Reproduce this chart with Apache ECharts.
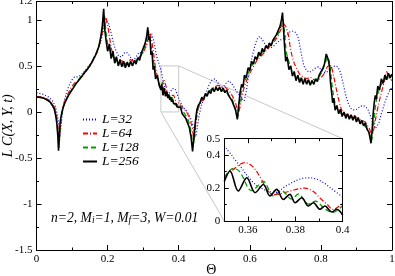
<!DOCTYPE html>
<html><head><meta charset="utf-8">
<script src="https://cdn.jsdelivr.net/npm/echarts@6/dist/echarts.min.js"></script>
<style>html,body{margin:0;padding:0;background:#fff}#c{width:395px;height:276px}</style>
</head><body><div id="c"></div>
<script>
const FONT = 'Liberation Serif';
const seriesNames = ['L=32', 'L=64', 'L=128', 'L=256'];
const colors = ['#0000ff', '#ff0000', '#00a000', '#000000'];
const dashTypes = [[1, 2], [5, 2, 1, 2], [5, 3], 'solid'];
const lineWidths = [1.2, 1.2, 1.3, 1.6];

// main plot ranges / ticks
const mainXTicks = [0, 0.2, 0.4, 0.6, 0.8, 1];
const mainYTicks = [-1.5, -1, -0.5, 0, 0.5, 1];
const insetXTicks = [0.36, 0.38, 0.4];
const insetYTicks = [0, 0.2, 0.4];
const zoomWindow = { x: [0.35, 0.4], y: [0, 0.5] };

// ---- main data (Theta, L*C) ----
const L32 = [[0,0.21],[0.02,0.19],[0.035,0.16],[0.045,0.12],[0.053,0.06],[0.058,-0.02],[0.062,-0.12],[0.066,-0.27],[0.069,-0.15],[0.073,0.0],
[0.078,0.12],[0.085,0.22],[0.092,0.29],[0.1,0.35],[0.107,0.38],[0.115,0.38],[0.125,0.40],[0.135,0.44],[0.145,0.49],[0.155,0.54],
[0.165,0.61],[0.175,0.70],[0.183,0.80],[0.19,0.91],[0.197,0.99],[0.203,0.96],[0.21,0.86],[0.217,0.74],[0.224,0.66],[0.232,0.60],
[0.24,0.60],[0.247,0.64],[0.253,0.65],[0.26,0.62],[0.268,0.57],[0.275,0.57],[0.282,0.61],[0.289,0.65],[0.296,0.64],[0.303,0.66],
[0.31,0.73],[0.317,0.81],[0.324,0.85],[0.33,0.77],[0.338,0.60],[0.345,0.52],[0.35,0.46],[0.356,0.34],[0.362,0.235],[0.368,0.184],
[0.372,0.174],[0.377,0.22],[0.382,0.255],[0.386,0.265],[0.39,0.25],[0.395,0.20],[0.4,0.15],[0.408,0.08],[0.415,0.04],[0.422,0.01],
[0.43,-0.04],[0.437,-0.10],[0.443,-0.20],[0.448,-0.27],[0.452,-0.18],[0.457,-0.05],[0.463,0.06],[0.47,0.14],[0.478,0.22],[0.486,0.30],
[0.494,0.35],[0.502,0.36],[0.51,0.32],[0.518,0.27],[0.525,0.27],[0.533,0.31],[0.541,0.34],[0.549,0.31],[0.557,0.26],[0.565,0.21],
[0.572,0.18],[0.578,0.14],[0.584,0.12],[0.59,0.22],[0.596,0.38],[0.602,0.52],[0.609,0.64],[0.616,0.74],[0.623,0.81],[0.629,0.82],
[0.636,0.78],[0.644,0.73],[0.652,0.70],[0.66,0.70],[0.668,0.72],[0.676,0.75],[0.685,0.78],[0.695,0.80],[0.705,0.84],[0.713,0.87],
[0.722,0.88],[0.73,0.86],[0.737,0.80],[0.744,0.65],[0.752,0.50],[0.76,0.45],[0.768,0.43],[0.776,0.45],[0.785,0.48],[0.793,0.49],
[0.8,0.46],[0.808,0.43],[0.816,0.43],[0.824,0.46],[0.832,0.49],[0.84,0.50],[0.848,0.49],[0.856,0.42],[0.863,0.30],[0.87,0.18],
[0.878,0.08],[0.886,0.03],[0.894,0.02],[0.902,0.03],[0.91,0.06],[0.918,0.07],[0.925,0.06],[0.932,0.03],[0.94,-0.05],[0.947,-0.13],
[0.953,-0.18],[0.958,-0.19],[0.963,-0.12],[0.97,-0.02],[0.978,0.08],[0.985,0.16],[0.992,0.22],[1,0.27]];

const L64 = [[0,0.17],[0.02,0.16],[0.035,0.13],[0.045,0.09],[0.052,0.04],[0.057,-0.05],[0.061,-0.18],[0.064,-0.35],[0.067,-0.18],[0.071,-0.02],
[0.076,0.08],[0.082,0.14],[0.09,0.21],[0.1,0.28],[0.108,0.32],[0.115,0.33],[0.125,0.37],[0.135,0.42],[0.145,0.47],[0.155,0.53],
[0.165,0.60],[0.175,0.70],[0.183,0.82],[0.19,0.95],[0.195,1.03],[0.2,0.95],[0.205,0.82],[0.21,0.70],[0.215,0.62],[0.222,0.58],
[0.23,0.55],[0.238,0.57],[0.245,0.53],[0.255,0.54],[0.265,0.57],[0.272,0.55],[0.28,0.56],[0.29,0.60],[0.3,0.64],[0.308,0.72],
[0.314,0.80],[0.319,0.86],[0.323,0.80],[0.328,0.68],[0.334,0.50],[0.342,0.34],[0.35,0.25],[0.354,0.31],[0.3587,0.35],[0.362,0.33],
[0.365,0.27],[0.368,0.20],[0.3714,0.15],[0.375,0.17],[0.378,0.18],[0.3827,0.19],[0.386,0.18],[0.389,0.15],[0.392,0.10],[0.396,0.06],
[0.398,0.07],[0.4,0.10],[0.405,0.09],[0.41,0.05],[0.418,0.02],[0.425,-0.02],[0.432,-0.08],[0.438,-0.17],[0.443,-0.31],[0.447,-0.18],
[0.451,-0.05],[0.456,0.05],[0.463,0.10],[0.47,0.14],[0.48,0.20],[0.49,0.24],[0.5,0.27],[0.51,0.29],[0.52,0.27],[0.53,0.27],
[0.54,0.24],[0.55,0.18],[0.558,0.12],[0.564,0.04],[0.569,0.00],[0.573,0.06],[0.578,0.18],[0.585,0.28],[0.592,0.35],[0.6,0.42],
[0.61,0.49],[0.62,0.56],[0.63,0.60],[0.64,0.64],[0.65,0.68],[0.66,0.73],[0.67,0.77],[0.68,0.83],[0.688,0.90],[0.695,0.96],
[0.701,0.93],[0.708,0.85],[0.713,0.72],[0.718,0.62],[0.725,0.53],[0.732,0.47],[0.74,0.41],[0.75,0.38],[0.76,0.36],[0.77,0.38],
[0.78,0.35],[0.79,0.34],[0.8,0.37],[0.81,0.42],[0.818,0.49],[0.826,0.52],[0.832,0.46],[0.838,0.35],[0.845,0.22],[0.852,0.10],
[0.858,0.02],[0.865,-0.02],[0.875,-0.03],[0.885,-0.06],[0.895,-0.04],[0.905,-0.08],[0.915,-0.09],[0.925,-0.11],[0.935,-0.17],[0.942,-0.24],
[0.948,-0.20],[0.955,-0.05],[0.962,0.08],[0.968,0.18],[0.975,0.28],[0.98,0.36],[0.985,0.44],[0.99,0.40],[0.995,0.36],[1,0.34]];

const L128 = [[0,0.16],[0.02,0.15],[0.035,0.12],[0.045,0.07],[0.052,0.02],[0.057,-0.08],[0.06,-0.22],[0.063,-0.40],[0.066,-0.22],[0.07,-0.05],
[0.075,0.05],[0.08,0.11],[0.09,0.19],[0.1,0.25],[0.11,0.31],[0.12,0.36],[0.13,0.41],[0.14,0.46],[0.15,0.51],[0.16,0.58],
[0.17,0.66],[0.177,0.74],[0.183,0.84],[0.187,0.93],[0.191,1.05],[0.195,0.88],[0.2,0.74],[0.205,0.68],[0.21,0.66],[0.215,0.60],
[0.22,0.62],[0.225,0.55],[0.23,0.57],[0.235,0.52],[0.24,0.54],[0.245,0.50],[0.25,0.53],[0.255,0.50],[0.26,0.53],[0.265,0.51],
[0.27,0.54],[0.275,0.53],[0.28,0.56],[0.285,0.57],[0.29,0.59],[0.295,0.62],[0.3,0.66],[0.305,0.72],[0.31,0.80],[0.315,0.88],
[0.319,0.78],[0.323,0.70],[0.327,0.58],[0.331,0.52],[0.335,0.42],[0.34,0.38],[0.345,0.30],[0.35,0.26],[0.3538,0.32],[0.3565,0.30],
[0.3616,0.18],[0.3665,0.24],[0.3707,0.15],[0.3742,0.18],[0.3785,0.13],[0.3813,0.16],[0.3855,0.10],[0.3885,0.12],[0.3925,0.07],[0.396,0.05],
[0.4,0.09],[0.405,0.06],[0.41,0.02],[0.415,0.00],[0.42,-0.04],[0.425,-0.07],[0.43,-0.13],[0.435,-0.22],[0.441,-0.38],[0.445,-0.22],
[0.449,-0.07],[0.454,0.04],[0.46,0.10],[0.465,0.14],[0.47,0.13],[0.475,0.18],[0.48,0.17],[0.485,0.22],[0.49,0.21],[0.495,0.25],
[0.5,0.23],[0.505,0.27],[0.51,0.24],[0.515,0.27],[0.52,0.24],[0.525,0.26],[0.53,0.22],[0.535,0.24],[0.54,0.19],[0.545,0.19],
[0.55,0.14],[0.556,0.08],[0.562,0.0],[0.567,-0.05],[0.571,0.08],[0.576,0.22],[0.582,0.30],[0.586,0.33],[0.59,0.38],[0.595,0.40],
[0.6,0.46],[0.605,0.48],[0.61,0.53],[0.615,0.54],[0.62,0.59],[0.625,0.60],[0.63,0.63],[0.635,0.64],[0.64,0.67],[0.645,0.68],
[0.65,0.71],[0.655,0.72],[0.66,0.75],[0.665,0.76],[0.67,0.79],[0.675,0.81],[0.68,0.85],[0.688,0.93],[0.694,1.00],[0.698,0.85],
[0.702,0.66],[0.707,0.58],[0.712,0.52],[0.716,0.50],[0.72,0.43],[0.725,0.44],[0.73,0.37],[0.735,0.40],[0.74,0.34],[0.745,0.37],
[0.75,0.32],[0.755,0.36],[0.76,0.31],[0.765,0.35],[0.77,0.30],[0.775,0.34],[0.78,0.31],[0.785,0.35],[0.79,0.34],[0.795,0.38],
[0.8,0.39],[0.805,0.45],[0.813,0.54],[0.819,0.60],[0.823,0.56],[0.827,0.46],[0.831,0.30],[0.836,0.16],[0.842,0.06],[0.846,0.07],
[0.85,0.01],[0.855,0.03],[0.86,-0.03],[0.865,0.00],[0.87,-0.05],[0.875,-0.02],[0.88,-0.07],[0.885,-0.04],[0.89,-0.08],[0.895,-0.05],
[0.9,-0.10],[0.905,-0.07],[0.91,-0.12],[0.915,-0.10],[0.92,-0.14],[0.925,-0.13],[0.93,-0.18],[0.937,-0.24],[0.943,-0.31],[0.948,-0.15],
[0.953,0.05],[0.958,0.17],[0.962,0.15],[0.966,0.27],[0.97,0.25],[0.975,0.33],[0.98,0.31],[0.985,0.38],[0.99,0.35],[0.995,0.40],[1,0.38]];

const L256 = [[0,0.16],[0.01,0.16],[0.02,0.15],[0.03,0.13],[0.04,0.10],[0.045,0.07],[0.05,0.03],[0.054,-0.04],[0.057,-0.12],[0.06,-0.26],
[0.062,-0.42],[0.064,-0.24],[0.067,-0.10],[0.07,-0.03],[0.075,0.05],[0.08,0.10],[0.09,0.18],[0.1,0.24],[0.11,0.30],[0.12,0.35],
[0.13,0.40],[0.14,0.45],[0.15,0.50],[0.16,0.57],[0.17,0.65],[0.176,0.72],[0.181,0.82],[0.185,0.93],[0.189,1.12],[0.192,0.90],
[0.195,0.80],[0.2,0.66],[0.205,0.74],[0.21,0.58],[0.215,0.66],[0.22,0.53],[0.225,0.60],[0.23,0.50],[0.235,0.57],[0.24,0.49],
[0.245,0.55],[0.25,0.48],[0.255,0.54],[0.26,0.49],[0.265,0.55],[0.27,0.50],[0.275,0.56],[0.28,0.52],[0.285,0.59],[0.29,0.56],
[0.295,0.64],[0.3,0.63],[0.305,0.74],[0.309,0.80],[0.313,0.92],[0.316,0.78],[0.319,0.82],[0.322,0.62],[0.325,0.66],[0.328,0.46],
[0.331,0.50],[0.335,0.36],[0.34,0.40],[0.345,0.29],[0.35,0.24],[0.3524,0.30],[0.3559,0.18],[0.3595,0.26],[0.363,0.17],[0.3665,0.22],
[0.3693,0.15],[0.3721,0.19],[0.3749,0.13],[0.3777,0.16],[0.3799,0.11],[0.3827,0.14],[0.3855,0.09],[0.3876,0.11],[0.3904,0.07],[0.3925,0.09],
[0.3954,0.055],[0.3975,0.07],[0.4,0.035],[0.405,0.05],[0.41,-0.02],[0.415,0.0],[0.42,-0.07],[0.425,-0.06],[0.43,-0.17],[0.435,-0.28],
[0.439,-0.43],[0.443,-0.26],[0.447,-0.10],[0.451,0.02],[0.455,0.07],[0.46,0.10],[0.465,0.16],[0.47,0.13],[0.475,0.20],[0.48,0.17],
[0.485,0.23],[0.49,0.20],[0.495,0.26],[0.5,0.22],[0.505,0.27],[0.51,0.23],[0.515,0.27],[0.52,0.22],[0.525,0.26],[0.53,0.21],
[0.535,0.24],[0.54,0.18],[0.545,0.20],[0.55,0.12],[0.555,0.10],[0.56,0.02],[0.565,-0.08],[0.569,0.08],[0.573,0.22],[0.577,0.30],
[0.581,0.27],[0.585,0.40],[0.59,0.37],[0.595,0.48],[0.6,0.45],[0.605,0.55],[0.61,0.52],[0.615,0.60],[0.62,0.57],[0.625,0.65],
[0.63,0.61],[0.635,0.69],[0.64,0.65],[0.645,0.72],[0.65,0.69],[0.655,0.75],[0.66,0.72],[0.665,0.78],[0.67,0.76],[0.675,0.84],
[0.68,0.83],[0.685,0.93],[0.689,1.00],[0.692,1.08],[0.695,0.90],[0.698,0.70],[0.701,0.55],[0.705,0.60],[0.71,0.46],[0.715,0.50],
[0.72,0.39],[0.725,0.44],[0.73,0.34],[0.735,0.40],[0.74,0.32],[0.745,0.37],[0.75,0.30],[0.755,0.36],[0.76,0.30],[0.765,0.35],
[0.77,0.29],[0.775,0.34],[0.78,0.30],[0.785,0.36],[0.79,0.33],[0.795,0.40],[0.8,0.39],[0.805,0.47],[0.81,0.52],[0.815,0.63],
[0.818,0.60],[0.821,0.56],[0.824,0.50],[0.827,0.32],[0.83,0.22],[0.833,0.10],[0.836,0.15],[0.84,0.02],[0.845,0.07],[0.85,-0.02],
[0.855,0.03],[0.86,-0.05],[0.865,0.00],[0.87,-0.07],[0.875,-0.02],[0.88,-0.08],[0.885,-0.03],[0.89,-0.09],[0.895,-0.04],[0.9,-0.11],
[0.905,-0.06],[0.91,-0.13],[0.915,-0.09],[0.92,-0.15],[0.925,-0.12],[0.93,-0.19],[0.935,-0.22],[0.938,-0.28],[0.941,-0.34],[0.944,-0.20],
[0.947,-0.02],[0.95,0.10],[0.953,0.18],[0.956,0.14],[0.96,0.28],[0.965,0.24],[0.97,0.36],[0.975,0.31],[0.98,0.40],[0.985,0.35],
[0.99,0.42],[0.995,0.37],[1,0.41]];

// ---- inset data (zoom 0.35 .. 0.40) ----
const inL32 = [[0.35,0.457],[0.3566,0.335],[0.3622,0.234],[0.3678,0.184],[0.3714,0.174],[0.3763,0.215],[0.382,0.255],[0.3862,0.262],[0.3905,0.245],[0.3946,0.204],[0.4,0.145]];
const inL64 = [[0.35,0.27],[0.3535,0.31],[0.3587,0.355],[0.362,0.33],[0.365,0.27],[0.3686,0.18],[0.3714,0.16],[0.375,0.17],[0.3798,0.19],[0.384,0.20],[0.3875,0.18],[0.3904,0.14],[0.3935,0.10],[0.396,0.07],[0.398,0.085],[0.4,0.11]];
const inL128 = [[0.35,0.264],[0.3538,0.32],[0.3565,0.30],[0.3616,0.184],[0.3665,0.24],[0.3707,0.153],[0.3742,0.184],[0.3785,0.133],[0.3813,0.164],[0.3855,0.103],[0.3885,0.12],[0.3925,0.073],[0.396,0.053],[0.4,0.095]];
const inL256 = [[0.35,0.24],[0.3524,0.303],[0.3559,0.182],[0.3595,0.263],[0.363,0.172],[0.3665,0.222],[0.3693,0.152],[0.3721,0.192],[0.3749,0.131],[0.3777,0.162],[0.3799,0.111],[0.3827,0.141],[0.3855,0.091],[0.3876,0.111],[0.3904,0.071],[0.3925,0.091],[0.3954,0.055],[0.3975,0.071],[0.4,0.035]];

const mainData = [L32, L64, L128, L256];
const insetData = [inL32, inL64, inL128, inL256];

// ---- layout ----
const MAIN = { left: 36.5, top: 1.5, width: 355.5, height: 248.5 };
const INSET = { left: 224.3, top: 138.7, width: 118.4, height: 82.3 };
const insetMajorLeft = INSET.left + INSET.width * (insetXTicks[0] - zoomWindow.x[0]) / (zoomWindow.x[1] - zoomWindow.x[0]);
const INSET_MAJ = { left: insetMajorLeft, top: INSET.top, width: INSET.left + INSET.width - insetMajorLeft, height: INSET.height };

const black = '#000';
function axis(o) {
  return Object.assign({
    type: 'value',
    axisLine: { show: true, onZero: false, lineStyle: { color: black, width: 1 } },
    splitLine: { show: false },
    axisTick: { show: true, inside: true, length: 5, lineStyle: { color: black, width: 1 } },
    minorTick: { show: true, splitNumber: 2, length: 2.5, lineStyle: { color: black, width: 1 } },
    axisLabel: { show: false },
    z: 10
  }, o);
}
const lab = (margin) => ({ show: true, color: black, fontFamily: FONT, fontSize: 11, margin: margin });

const chart = echarts.init(document.getElementById('c'), null, { renderer: 'canvas', devicePixelRatio: 1 });

const series = [];
mainData.forEach((d, i) => series.push({
  name: seriesNames[i], type: 'line', xAxisIndex: 0, yAxisIndex: 0, data: d,
  symbol: 'none', z: 2, silent: true,
  lineStyle: { color: colors[i], width: lineWidths[i], type: dashTypes[i] },
  itemStyle: { color: colors[i] }
}));
insetData.forEach((d, i) => series.push({
  name: seriesNames[i] + ' ', type: 'line', xAxisIndex: 2, yAxisIndex: 2, data: d,
  symbol: 'none', smooth: 0.35, z: 5, silent: true,
  lineStyle: { color: colors[i], width: lineWidths[i], type: dashTypes[i] }
}));

chart.setOption({
  animation: false,
  backgroundColor: '#fff',
  grid: [
    Object.assign({ containLabel: false, outerBoundsMode: 'none', show: false }, MAIN),
    Object.assign({ containLabel: false, outerBoundsMode: 'none', show: true, backgroundColor: '#fff', borderWidth: 0, z: 4 }, INSET),
    Object.assign({ containLabel: false, outerBoundsMode: 'none', show: false }, INSET_MAJ)
  ],
  xAxis: [
    axis({ gridIndex: 0, position: 'bottom', min: 0, max: 1, interval: 0.2, axisLabel: lab(4) }),
    axis({ gridIndex: 0, position: 'top', min: 0, max: 1, interval: 0.2 }),
    axis({ gridIndex: 1, position: 'bottom', min: zoomWindow.x[0], max: zoomWindow.x[1], interval: 0.01,
      axisTick: { show: true, inside: true, length: 2.5, lineStyle: { color: black } }, minorTick: { show: false } }),
    axis({ gridIndex: 1, position: 'top', min: zoomWindow.x[0], max: zoomWindow.x[1], interval: 0.01,
      axisTick: { show: true, inside: true, length: 2.5, lineStyle: { color: black } }, minorTick: { show: false } }),
    axis({ gridIndex: 2, position: 'bottom', min: insetXTicks[0], max: zoomWindow.x[1], interval: 0.02,
      axisLine: { show: false }, axisTick: { show: true, inside: true, length: 4.5, lineStyle: { color: black } }, minorTick: { show: false }, axisLabel: lab(4) }),
    axis({ gridIndex: 2, position: 'top', min: insetXTicks[0], max: zoomWindow.x[1], interval: 0.02,
      axisLine: { show: false }, axisTick: { show: true, inside: true, length: 4.5, lineStyle: { color: black } }, minorTick: { show: false } })
  ],
  yAxis: [
    axis({ gridIndex: 0, position: 'left', min: -1.5, max: 1.2, interval: 0.5, axisLabel: lab(4) }),
    axis({ gridIndex: 0, position: 'right', min: -1.5, max: 1.2, interval: 0.5 }),
    axis({ gridIndex: 1, position: 'left', min: zoomWindow.y[0], max: zoomWindow.y[1], interval: 0.2,
      axisTick: { show: true, inside: true, length: 4.5, lineStyle: { color: black } },
      minorTick: { show: true, splitNumber: 2, length: 2.5, lineStyle: { color: black } }, axisLabel: lab(4) }),
    axis({ gridIndex: 1, position: 'right', min: zoomWindow.y[0], max: zoomWindow.y[1], interval: 0.2,
      axisTick: { show: true, inside: true, length: 4.5, lineStyle: { color: black } },
      minorTick: { show: true, splitNumber: 2, length: 2.5, lineStyle: { color: black } } }),
    axis({ gridIndex: 2, show: false, min: zoomWindow.y[0], max: zoomWindow.y[1] })
  ],
  legend: {
    data: seriesNames, orient: 'vertical', left: 82, top: 112.5,
    itemWidth: 14, itemHeight: 8, itemGap: 0,
    itemStyle: { color: 'rgba(0,0,0,0)', borderColor: 'rgba(0,0,0,0)', borderWidth: 0, opacity: 0 },
    textStyle: { fontFamily: FONT, fontStyle: 'italic', fontSize: 13.5, lineHeight: 13, color: black, padding: [0, 0, 0, 0] },
    selectedMode: false, padding: 0
  },
  series: series
});

// decorations: axis titles, annotation, zoom frame + connectors
const px = (xi, yi, v) => chart.convertToPixel({ xAxisIndex: xi, yAxisIndex: yi }, v);
const r0 = px(0, 0, [zoomWindow.x[0], zoomWindow.y[0]]);
const r1 = px(0, 0, [zoomWindow.x[1], zoomWindow.y[1]]);
const i0 = px(2, 2, [zoomWindow.x[0], zoomWindow.y[0]]);
const i1 = px(2, 2, [zoomWindow.x[1], zoomWindow.y[1]]);
const grey = { stroke: '#c8c8c8', lineWidth: 1, fill: null };
const mainCenterY = MAIN.top + MAIN.height / 2;
const mainCenterX = MAIN.left + MAIN.width / 2;

chart.setOption({
  graphic: [
    { type: 'rect', z: 1, silent: true, shape: { x: r0[0], y: r1[1], width: r1[0] - r0[0], height: r0[1] - r1[1] }, style: grey },
    { type: 'line', z: 1, silent: true, shape: { x1: r1[0], y1: r1[1], x2: i1[0], y2: i1[1] }, style: grey },
    { type: 'line', z: 1, silent: true, shape: { x1: r0[0], y1: r0[1], x2: i0[0], y2: i0[1] }, style: grey },
    { type: 'text', z: 20, silent: true, x: 8.5, y: mainCenterY, rotation: Math.PI / 2,
      style: { text: 'L C(X, Y, t)', fontFamily: FONT, fontStyle: 'italic', fontSize: 14, fill: black, align: 'center', verticalAlign: 'middle' } },
    { type: 'text', z: 20, silent: true, x: mainCenterX - 3, y: 270,
      style: { text: 'Θ', fontFamily: FONT, fontSize: 14, fill: black, align: 'center', verticalAlign: 'middle' } },
    { type: 'text', z: 20, silent: true, x: 51, y: 211,
      style: {
        text: '{t|n=2, M}{s|i}{t|=1, M}{s|f}{t|=3, W=0.01}',
        fill: black,
        rich: {
          t: { fontFamily: FONT, fontStyle: 'italic', fontSize: 13.6, lineHeight: 14, fill: black },
          s: { fontFamily: FONT, fontStyle: 'italic', fontSize: 9.5, lineHeight: 9, verticalAlign: 'bottom', padding: [9, 0, 0, 0], fill: black }
        }
      } }
  ]
});
</script>
</body></html>
